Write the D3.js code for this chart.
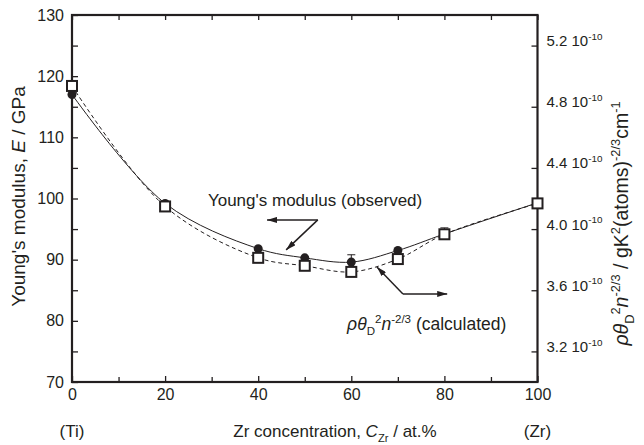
<!DOCTYPE html>
<html>
<head>
<meta charset="utf-8">
<script src="https://cdnjs.cloudflare.com/ajax/libs/d3/7.8.5/d3.min.js"></script>
<style>
  body { margin: 0; background: #fff; }
  text { font-family: "Liberation Sans", Arial, Helvetica, sans-serif; fill: #231f20; }
</style>
</head>
<body>
<script>
// Zr concentration (at.%)
var conc = [0, 20, 40, 50, 60, 70, 80, 100];
// observed Young's modulus (GPa)
var modulus = [117.0, 99.2, 91.8, 90.3, 89.6, 91.5, 94.2, 99.3];
// error (GPa), only the visible ones
var modulusErr = [0, 0, 0, 0, 1.2, 0, 1.0, 0];
// calculated rho*theta_D^2*n^-2/3 (x 1e-10)
var calc = [4.936, 4.148, 3.812, 3.760, 3.720, 3.804, 3.966, 4.168];

var xTicks = [0, 20, 40, 60, 80, 100];
var xMinor = [10, 30, 50, 70, 90];
var yTicks = [70, 80, 90, 100, 110, 120, 130];
var yMinor = [75, 85, 95, 105, 115, 125];
var rTicks = [3.2, 3.6, 4.0, 4.4, 4.8, 5.2];

// canvas
var canvasX = 644;
var canvasY = 445;
var plotLeft = 72, plotRight = 537.5, plotTop = 15, plotBottom = 382;
var ink = "#231f20";

var svg = d3.select("body").append("svg")
    .attr("width", canvasX)
    .attr("height", canvasY);

// scales
var scaleX = d3.scaleLinear().domain([0, 100]).range([plotLeft, plotRight]);
var scaleY = d3.scaleLinear().domain([70, 130]).range([plotBottom, plotTop]);
var scaleR = d3.scaleLinear().domain([3.0, 5.4]).range([plotBottom, plotTop]);

// small helper for text with sub / superscripts
function rich(sel, parts, fs) {
  var shift = 0;
  parts.forEach(function(p) {
    var t = sel.append("tspan").text(p.t);
    var want = 0, size = fs;
    if (p.s == "sup") { want = -fs * 0.42; size = fs * 0.66; }
    if (p.s == "sub") { want = fs * 0.3; size = fs * 0.66; }
    t.attr("dy", want - shift).style("font-size", size + "px");
    if (p.i) t.style("font-style", "italic");
    shift = want;
  });
}

// arrow head
svg.append("defs").append("marker")
    .attr("id", "head")
    .attr("viewBox", "0 0 10 6")
    .attr("refX", 10).attr("refY", 3)
    .attr("markerWidth", 10).attr("markerHeight", 6)
    .attr("markerUnits", "userSpaceOnUse")
    .attr("orient", "auto")
  .append("path").attr("d", "M0,0 L10,3 L0,6 Z").attr("fill", ink);

// axes
function styleAxis(g) {
  g.select(".domain").remove();
  g.selectAll("line").attr("stroke", ink).attr("stroke-width", 1.3);
  g.selectAll("text").style("font-size", "16px").attr("fill", ink);
}

svg.append("g").attr("transform", "translate(0," + plotBottom + ")")
    .call(d3.axisBottom(scaleX).tickValues(xTicks).tickSize(-6).tickSizeOuter(0).tickPadding(7))
    .call(styleAxis);
svg.append("g").attr("transform", "translate(0," + plotBottom + ")")
    .call(d3.axisBottom(scaleX).tickValues(xMinor).tickSize(-5).tickSizeOuter(0).tickFormat(""))
    .call(styleAxis);
svg.append("g").attr("transform", "translate(0," + plotTop + ")")
    .call(d3.axisTop(scaleX).tickValues(xTicks.concat(xMinor)).tickSize(-5).tickSizeOuter(0).tickFormat(""))
    .call(styleAxis);
svg.append("g").attr("transform", "translate(" + plotLeft + ",0)")
    .call(d3.axisLeft(scaleY).tickValues(yTicks).tickSize(-6).tickSizeOuter(0).tickPadding(8))
    .call(styleAxis);
svg.append("g").attr("transform", "translate(" + plotLeft + ",0)")
    .call(d3.axisLeft(scaleY).tickValues(yMinor).tickSize(-6).tickSizeOuter(0).tickFormat(""))
    .call(styleAxis);

var rAxis = svg.append("g").attr("transform", "translate(" + plotRight + ",0)")
    .call(d3.axisRight(scaleR).tickValues(rTicks).tickSize(-6).tickSizeOuter(0).tickPadding(9))
    .call(styleAxis);
rAxis.selectAll(".tick text").each(function(d) {
  var t = d3.select(this).text(null);
  rich(t, [{t: d3.format(".1f")(d) + " 10"}, {t: "-10", s: "sup"}], 15);
});

// frame
svg.append("rect")
    .attr("x", plotLeft).attr("y", plotTop)
    .attr("width", plotRight - plotLeft).attr("height", plotBottom - plotTop)
    .attr("fill", "none").attr("stroke", ink).attr("stroke-width", 2.2);

// curves
var lineObs = d3.line()
    .x(function(d, i) { return scaleX(conc[i]); })
    .y(function(d) { return scaleY(d); })
    .curve(d3.curveCatmullRom.alpha(0.5));
var lineCalc = d3.line()
    .x(function(d, i) { return scaleX(conc[i]); })
    .y(function(d) { return scaleR(d); })
    .curve(d3.curveCatmullRom.alpha(0.5));

svg.append("path").datum(modulus).attr("d", lineObs)
    .attr("fill", "none").attr("stroke", ink).attr("stroke-width", 1);
svg.append("path").datum(calc).attr("d", lineCalc)
    .attr("fill", "none").attr("stroke", ink).attr("stroke-width", 1)
    .attr("stroke-dasharray", "4,3");

// error bars
var errs = conc.map(function(c, i) { return {c: c, v: modulus[i], e: modulusErr[i]}; })
    .filter(function(d) { return d.e > 0; });
svg.selectAll(".err").data(errs).enter().append("line")
    .attr("x1", function(d) { return scaleX(d.c); })
    .attr("x2", function(d) { return scaleX(d.c); })
    .attr("y1", function(d) { return scaleY(d.v); })
    .attr("y2", function(d) { return scaleY(d.v + d.e); })
    .attr("stroke", ink).attr("stroke-width", 1);
svg.selectAll(".cap").data(errs).enter().append("line")
    .attr("x1", function(d) { return scaleX(d.c) - 4; })
    .attr("x2", function(d) { return scaleX(d.c) + 4; })
    .attr("y1", function(d) { return scaleY(d.v + d.e); })
    .attr("y2", function(d) { return scaleY(d.v + d.e); })
    .attr("stroke", ink).attr("stroke-width", 1);

// observed points
svg.selectAll(".obs").data(modulus).enter().append("circle")
    .attr("cx", function(d, i) { return scaleX(conc[i]); })
    .attr("cy", function(d) { return scaleY(d); })
    .attr("r", 4.5)
    .attr("fill", ink);

// calculated points
svg.selectAll(".calc").data(calc).enter().append("rect")
    .attr("x", function(d, i) { return scaleX(conc[i]) - 5; })
    .attr("y", function(d) { return scaleR(d) - 5; })
    .attr("width", 10).attr("height", 10)
    .attr("fill", "#fff").attr("stroke", ink).attr("stroke-width", 2);

// annotations
svg.append("text")
    .attr("x", scaleX(29.2)).attr("y", scaleY(98.8))
    .style("font-size", "17px")
    .text("Young's modulus (observed)");

function arrow(x1, y1, x2, y2) {
  svg.append("line")
      .attr("x1", scaleX(x1)).attr("y1", scaleY(y1))
      .attr("x2", scaleX(x2)).attr("y2", scaleY(y2))
      .attr("stroke", ink).attr("stroke-width", 1.5)
      .attr("marker-end", "url(#head)");
}
arrow(52.8, 96.5, 41.9, 96.5);
arrow(52.8, 96.5, 46.0, 91.6);
arrow(71.1, 84.4, 80.6, 84.4);
arrow(71.1, 84.4, 65.5, 88.8);

var calcLabel = svg.append("text")
    .attr("x", scaleX(59.1)).attr("y", scaleY(78.5));
rich(calcLabel, [
  {t: "ρθ", i: true}, {t: "D", s: "sub"}, {t: "2", s: "sup"}, {t: "n", i: true},
  {t: "-2/3", s: "sup"}, {t: " (calculated)"}
], 17.5);

// axis titles
var yTitle = svg.append("text")
    .attr("transform", "translate(25," + ((plotTop + plotBottom) / 2 - 2) + ") rotate(-90)")
    .attr("text-anchor", "middle");
rich(yTitle, [{t: "Young's modulus, "}, {t: "E", i: true}, {t: " / GPa"}], 19);

var rTitle = svg.append("text")
    .attr("transform", "translate(628," + ((plotTop + plotBottom) / 2 + 25) + ") rotate(-90)")
    .attr("text-anchor", "middle");
rich(rTitle, [
  {t: "ρθ", i: true}, {t: "D", s: "sub"}, {t: "2", s: "sup"}, {t: "n", i: true},
  {t: "-2/3", s: "sup"}, {t: " / gK"}, {t: "2", s: "sup"}, {t: "(atoms)"},
  {t: "-2/3", s: "sup"}, {t: "cm"}, {t: "-1", s: "sup"}
], 19.5);

var xTitle = svg.append("text")
    .attr("x", 335).attr("y", 437)
    .attr("text-anchor", "middle");
rich(xTitle, [{t: "Zr concentration, "}, {t: "C", i: true}, {t: "Zr", s: "sub"}, {t: " / at.%"}], 17);

svg.append("text").attr("x", scaleX(0)).attr("y", 437)
    .attr("text-anchor", "middle").style("font-size", "17px").text("(Ti)");
svg.append("text").attr("x", scaleX(100)).attr("y", 437)
    .attr("text-anchor", "middle").style("font-size", "17px").text("(Zr)");
</script>
</body>
</html>
